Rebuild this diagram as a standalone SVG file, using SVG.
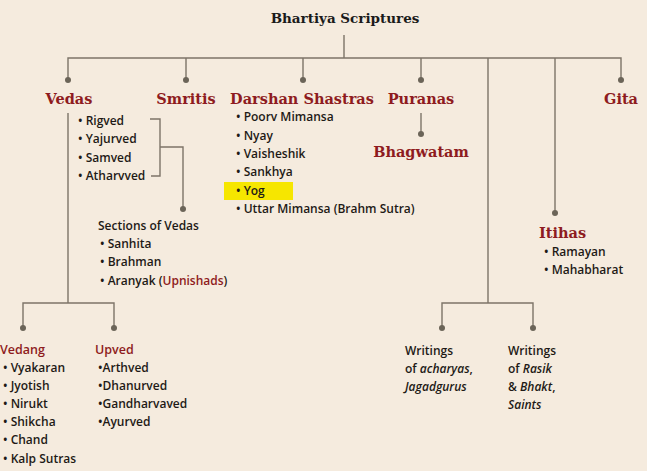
<svg xmlns="http://www.w3.org/2000/svg" width="647" height="471" viewBox="0 0 647 471">
<style>
.bg{fill:#f5ebde}
.ln{stroke:#7d7468;stroke-width:1.4;fill:none}
.dot{fill:#6b6458}
.title{font-family:"DejaVu Serif",serif;font-weight:bold;font-size:13.5px;fill:#1a1a1a}
.hd{font-family:"DejaVu Serif",serif;font-weight:bold;font-size:14.5px;fill:#8e1b20}
.sh{font-family:"Open Sans","DejaVu Sans",sans-serif;font-weight:600;font-size:12.5px;fill:#8e1b20}
.t{font-family:"Open Sans","DejaVu Sans",sans-serif;font-weight:600;font-size:12px;fill:#1e1a16}
.red{fill:#8e1b20}
.it{font-style:italic}
.hl{fill:#f6e600}
</style>
<rect class="bg" x="0" y="0" width="647" height="471"/>
<g id="connectors">
<path class="ln" d="M344 35V58M68 80V58H621V80M186 58V80M303 58V80M421 58V80M488 58V303M555 58V213"/>
<path class="ln" d="M421 113V134"/>
<path class="ln" d="M68 113V303M23 328V303H114V328"/>
<path class="ln" d="M150 119H160V176H151M160 147H183V209"/>
<path class="ln" d="M442 328V303H533V328"/>
<circle class="dot" cx="68" cy="80" r="3"/>
<circle class="dot" cx="186" cy="80" r="3"/>
<circle class="dot" cx="303" cy="80" r="3"/>
<circle class="dot" cx="421" cy="80" r="3"/>
<circle class="dot" cx="621" cy="80" r="3"/>
<circle class="dot" cx="421" cy="134" r="3"/>
<circle class="dot" cx="183" cy="209" r="3"/>
<circle class="dot" cx="555" cy="213" r="3"/>
<circle class="dot" cx="23" cy="328" r="3"/>
<circle class="dot" cx="114" cy="328" r="3"/>
<circle class="dot" cx="442" cy="328" r="3"/>
<circle class="dot" cx="533" cy="328" r="3"/>
</g>
<g id="title"><text class="title" x="345" y="23" text-anchor="middle">Bhartiya Scriptures</text></g>
<g id="vedas">
<text class="hd" x="69" y="104" text-anchor="middle">Vedas</text>
<text class="t" x="78" y="125">• Rigved</text>
<text class="t" x="78" y="143">• Yajurved</text>
<text class="t" x="78" y="162">• Samved</text>
<text class="t" x="78" y="180">• Atharvved</text>
</g>
<g id="smritis"><text class="hd" x="186" y="104" text-anchor="middle">Smritis</text></g>
<g id="darshan">
<text class="hd" x="302" y="104" text-anchor="middle">Darshan Shastras</text>
<rect class="hl" x="224" y="182" width="69" height="18"/>
<text class="t" x="236" y="121">• Poorv Mimansa</text>
<text class="t" x="236" y="140">• Nyay</text>
<text class="t" x="236" y="158">• Vaisheshik</text>
<text class="t" x="236" y="176">• Sankhya</text>
<text class="t" x="236" y="195">• Yog</text>
<text class="t" x="236" y="213">• Uttar Mimansa (Brahm Sutra)</text>
</g>
<g id="puranas"><text class="hd" x="421" y="104" text-anchor="middle">Puranas</text></g>
<g id="bhagwatam"><text class="hd" x="421" y="157" text-anchor="middle">Bhagwatam</text></g>
<g id="gita"><text class="hd" x="621" y="104" text-anchor="middle">Gita</text></g>
<g id="sections">
<text class="t" x="98" y="230">Sections of Vedas</text>
<text class="t" x="100" y="248">• Sanhita</text>
<text class="t" x="100" y="266">• Brahman</text>
<text class="t" x="100" y="285">• Aranyak (<tspan class="red">Upnishads</tspan>)</text>
</g>
<g id="itihas">
<text class="hd" x="539" y="238">Itihas</text>
<text class="t" x="544" y="256">• Ramayan</text>
<text class="t" x="544" y="274">• Mahabharat</text>
</g>
<g id="vedang">
<text class="sh" x="0" y="354">Vedang</text>
<text class="t" x="3" y="372">• Vyakaran</text>
<text class="t" x="3" y="390">• Jyotish</text>
<text class="t" x="3" y="408">• Nirukt</text>
<text class="t" x="3" y="426">• Shikcha</text>
<text class="t" x="3" y="444">• Chand</text>
<text class="t" x="3" y="463">• Kalp Sutras</text>
</g>
<g id="upved">
<text class="sh" x="95" y="354">Upved</text>
<text class="t" x="98" y="372">•Arthved</text>
<text class="t" x="98" y="390">•Dhanurved</text>
<text class="t" x="98" y="408">•Gandharvaved</text>
<text class="t" x="98" y="426">•Ayurved</text>
</g>
<g id="writings-acharyas">
<text class="t" x="405" y="355">Writings</text>
<text class="t" x="405" y="373">of <tspan class="it">acharyas</tspan>,</text>
<text class="t it" x="405" y="391">Jagadgurus</text>
</g>
<g id="writings-saints">
<text class="t" x="508" y="355">Writings</text>
<text class="t" x="508" y="373">of <tspan class="it">Rasik</tspan></text>
<text class="t" x="508" y="391">&amp; <tspan class="it">Bhakt</tspan>,</text>
<text class="t it" x="508" y="409">Saints</text>
</g>
</svg>
